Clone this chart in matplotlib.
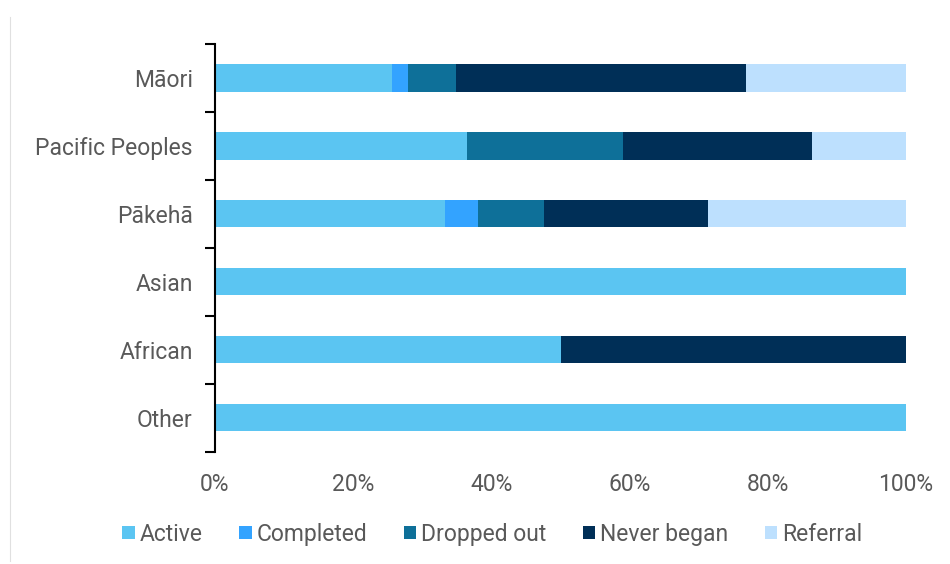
import matplotlib.pyplot as plt
from matplotlib.lines import Line2D
from matplotlib.ticker import PercentFormatter, FixedLocator
import numpy as np

plt.rcParams["font.family"] = ["Roboto", "DejaVu Sans"]

groups = ["Māori", "Pacific Peoples", "Pākehā", "Asian", "African", "Other"]
series = ["Active", "Completed", "Dropped out", "Never began", "Referral"]
colours = ["#5BC5F2", "#33A3FF", "#0E7099", "#002F57", "#BDE0FE"]

# share of each group, in percent
active = [25.6, 36.4, 33.3, 100, 50, 100]
completed = [2.3, 0, 4.8, 0, 0, 0]
dropped_out = [7.0, 22.7, 9.5, 0, 0, 0]
never_began = [41.9, 27.3, 23.8, 0, 50, 0]
referral = [23.2, 13.6, 28.6, 0, 0, 0]

values = [active, completed, dropped_out, never_began, referral]

fig = plt.figure(figsize=(9.5, 5.64), dpi=100)
ax = fig.add_axes([0.2263, 0.199, 0.7274, 0.723])

y = np.arange(len(groups))
left = np.zeros(len(groups))
for name, vals, c in zip(series, values, colours):
    vals = np.array(vals) / 100
    ax.barh(y, vals, left=left, height=0.4, color=c, label=name)
    left += vals

ax.set_ylim(len(groups) - 0.5, -0.5)
ax.set_xlim(0, 1)
ax.xaxis.set_major_formatter(PercentFormatter(1.0, decimals=0))
ax.set_xticks(np.linspace(0, 1, 6))

# ticks between categories, labels at the centres
ax.yaxis.set_major_locator(FixedLocator(np.arange(len(groups) + 1) - 0.5))
ax.yaxis.set_minor_locator(FixedLocator(y))
ax.set_yticklabels([], minor=False)
ax.set_yticklabels(groups, minor=True)
ax.tick_params(axis="y", which="major", length=7, width=1.5, color="black")
ax.tick_params(axis="y", which="minor", length=0, pad=16, labelsize=16.5, labelcolor="#595959")
ax.tick_params(axis="x", length=0, pad=15, labelsize=16.5, labelcolor="#595959")

for s in ["top", "right", "bottom"]:
    ax.spines[s].set_visible(False)
ax.spines["left"].set_linewidth(1.5)

ax.legend(loc="center", bbox_to_anchor=(0.518, 0.053), bbox_transform=fig.transFigure,
          ncol=5, frameon=False, fontsize=16.5, labelcolor="#595959",
          handlelength=0.55, handleheight=0.55, handletextpad=0.2, columnspacing=1.6)

fig.add_artist(Line2D([0.011, 0.011], [0.005, 0.97], color="#e0e0e0", lw=0.8,
                      transform=fig.transFigure))

fig.savefig("out.png", dpi=100)
